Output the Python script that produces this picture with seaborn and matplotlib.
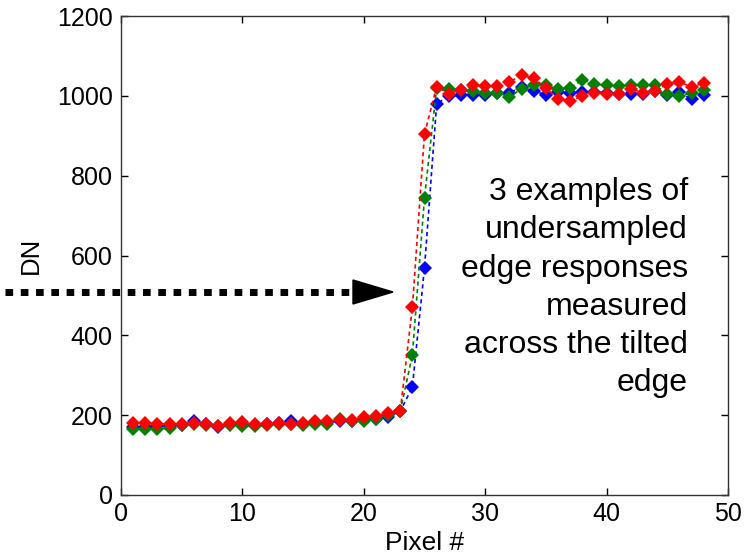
import numpy as np
import pandas as pd
import matplotlib
matplotlib.use("Agg")
import matplotlib.pyplot as plt
from matplotlib.lines import Line2D
from matplotlib.patches import Polygon
import seaborn as sns

# pixel index
pixel = list(range(1, 49))

# edge responses (DN)
red_dn = [180, 180, 178, 178, 178, 180, 178, 172, 180, 182, 178, 178, 180, 178, 180, 185,
          185, 188, 188, 195, 198, 205, 210, 470, 905, 1023, 1006, 1015, 1027, 1025, 1025, 1035,
          1052, 1045, 1020, 993, 987, 1000, 1008, 1006, 1004, 1018, 1008, 1012, 1030, 1035, 1023, 1032]
green_dn = [165, 165, 165, 168, 175, 178, 175, 172, 175, 172, 172, 175, 178, 178, 175, 178,
            178, 190, 185, 185, 190, 200, 210, 350, 745, 1020, 1018, 1015, 1012, 1008, 1008, 998,
            1018, 1027, 1027, 1018, 1020, 1040, 1030, 1027, 1025, 1027, 1027, 1027, 1006, 1000, 1008, 1015]
blue_dn = [170, 170, 172, 172, 175, 185, 178, 170, 178, 178, 175, 178, 180, 185, 178, 182,
           182, 185, 185, 190, 190, 195, 210, 270, 570, 980, 1000, 1002, 1003, 1003, 1008, 1007,
           1022, 1012, 1003, 1010, 1008, 1010, 1010, 1008, 1005, 1005, 1006, 1012, 1003, 1010, 992, 1003]

series = {"#0000ff": blue_dn, "#008000": green_dn, "#ff0000": red_dn}

sns.set_style("ticks")
plt.rcParams['font.family'] = ['Liberation Sans', 'DejaVu Sans']
plt.rcParams.update({"text.color": "black", "axes.labelcolor": "black",
                     "xtick.color": "black", "ytick.color": "black",
                     "axes.edgecolor": "#333333"})

fig = plt.figure(figsize=(7.52, 5.58), dpi=100)
ax = fig.add_axes([0.161, 0.113, 0.807, 0.858])

for color, vals in series.items():
    df = pd.DataFrame({"pixel": pixel, "dn": vals})
    sns.lineplot(data=df, x="pixel", y="dn", ax=ax, color=color, marker="D",
                 markersize=7.5, markeredgewidth=0, linestyle=(0, (2.5, 2)), linewidth=1.2)

ax.set_xlim(0, 50)
ax.set_ylim(0, 1200)
ax.set_xticks([0, 10, 20, 30, 40, 50])
ax.set_yticks([0, 200, 400, 600, 800, 1000, 1200])
ax.tick_params(direction="in", labelsize=18, top=True, right=True, length=5, width=1)
ax.tick_params(axis="y", pad=6)
ax.tick_params(axis="x", pad=5)
for s in ax.spines.values():
    s.set_linewidth(1)
ax.set_xlabel("Pixel #", fontsize=19, labelpad=4)
ax.set_ylabel("DN", fontsize=18.5, labelpad=10)

ax.text(0.934, 0.664, "3 examples of\nundersampled\nedge responses\nmeasured\nacross the tilted\nedge",
        transform=ax.transAxes, ha="right", va="top", fontsize=23, linespacing=1.36)

# dotted arrow pointing at the edge
W, H = 752, 558
y_ar = 1 - 292 / H
fig.add_artist(Line2D([5 / W, 352 / W], [y_ar, y_ar], color="black", linewidth=5,
                      linestyle=(0, (1.1, 1.1)), solid_capstyle="butt", dash_capstyle="butt"))
fig.add_artist(Polygon([[353 / W, 1 - 280 / H], [353 / W, 1 - 304 / H], [393 / W, y_ar]],
                       closed=True, color="black", transform=fig.transFigure))

fig.savefig("out.png", dpi=100)
